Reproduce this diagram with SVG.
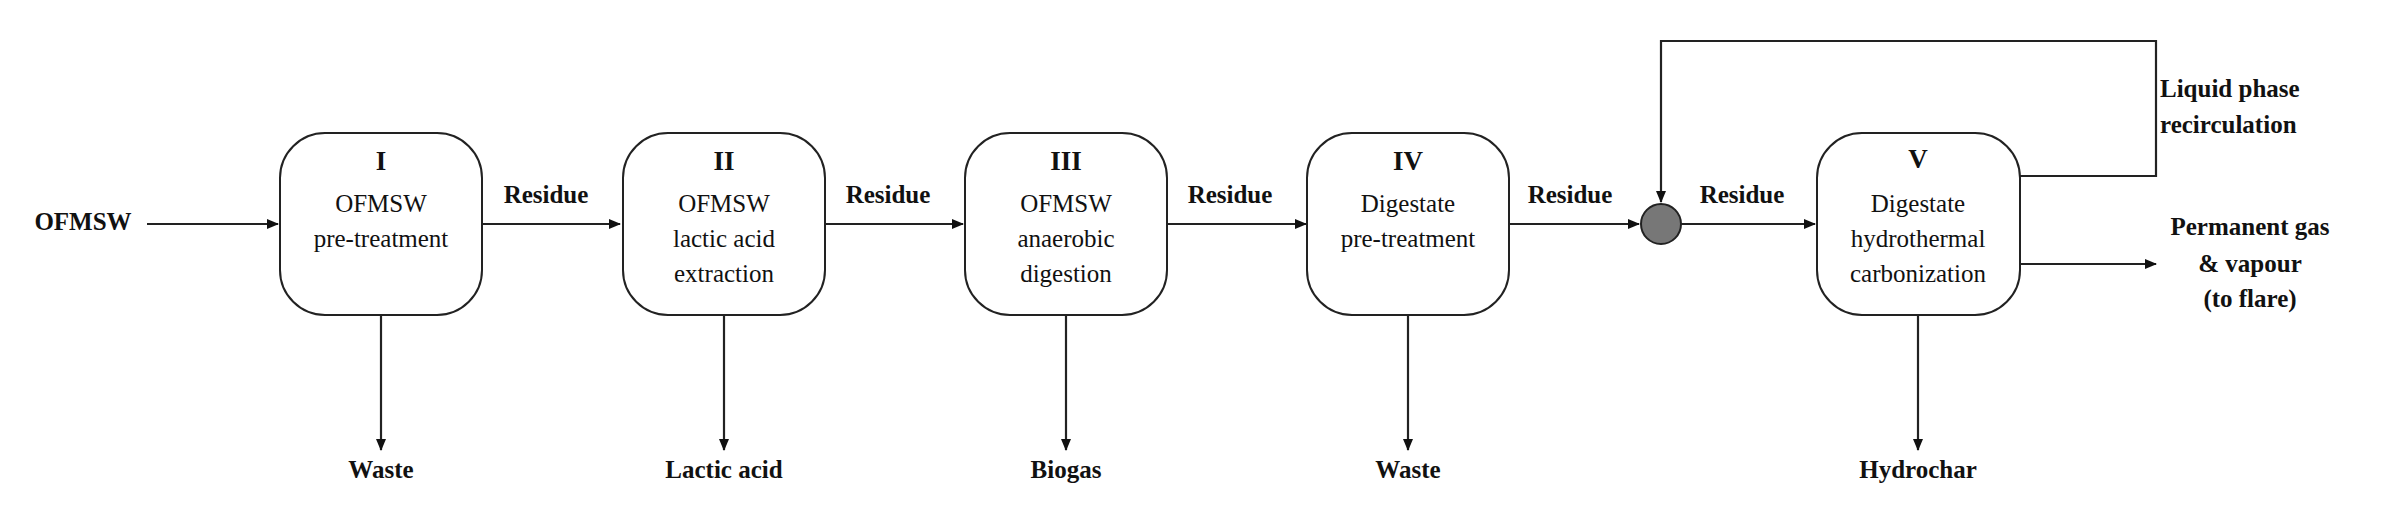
<svg xmlns="http://www.w3.org/2000/svg" width="2384" height="515" viewBox="0 0 2384 515">
<style>
text{font-family:"Liberation Serif","DejaVu Serif",serif;font-size:25px;fill:#111;text-anchor:middle}
.b{font-weight:bold}
.box{fill:#fff;stroke:#222;stroke-width:2}
.c{fill:none;stroke:#222;stroke-width:2.2}
</style>
<defs><marker id="a" markerWidth="12" markerHeight="10" refX="11" refY="5" orient="auto" markerUnits="userSpaceOnUse"><path d="M0,0L12,5L0,10z" fill="#111"/></marker></defs>
<g id="connectors">
<path class="c" d="M147,224H278" marker-end="url(#a)"/>
<path class="c" d="M482,224H620" marker-end="url(#a)"/>
<path class="c" d="M826,224H963" marker-end="url(#a)"/>
<path class="c" d="M1167,224H1306" marker-end="url(#a)"/>
<path class="c" d="M1510,224H1639" marker-end="url(#a)"/>
<path class="c" d="M1681,224H1815" marker-end="url(#a)"/>
<path class="c" d="M2020,176H2156V41H1661V202" marker-end="url(#a)"/>
<path class="c" d="M2020,264H2156" marker-end="url(#a)"/>
<path class="c" d="M381,315V450" marker-end="url(#a)"/>
<path class="c" d="M724,315V450" marker-end="url(#a)"/>
<path class="c" d="M1066,315V450" marker-end="url(#a)"/>
<path class="c" d="M1408,315V450" marker-end="url(#a)"/>
<path class="c" d="M1918,315V450" marker-end="url(#a)"/>
<text class="b" x="83" y="230">OFMSW</text>
<text class="b" x="546" y="203">Residue</text>
<text class="b" x="888" y="203">Residue</text>
<text class="b" x="1230" y="203">Residue</text>
<text class="b" x="1570" y="203">Residue</text>
<text class="b" x="1742" y="203">Residue</text>
<text class="b" x="2160" y="97" style="text-anchor:start">Liquid phase</text>
<text class="b" x="2160" y="133" style="text-anchor:start">recirculation</text>
<text class="b" x="2250" y="235">Permanent gas</text>
<text class="b" x="2250" y="272">&amp; vapour</text>
<text class="b" x="2250" y="307">(to flare)</text>
<text class="b" x="381" y="478">Waste</text>
<text class="b" x="724" y="478">Lactic acid</text>
<text class="b" x="1066" y="478">Biogas</text>
<text class="b" x="1408" y="478">Waste</text>
<text class="b" x="1918" y="478">Hydrochar</text>
</g>
<g id="n1"><rect class="box" x="280" y="133" width="202" height="182" rx="45"/><text class="b" x="381" y="170" style="font-size:27px">I</text><text x="381" y="212">OFMSW</text><text x="381" y="247">pre-treatment</text></g>
<g id="n2"><rect class="box" x="623" y="133" width="202" height="182" rx="45"/><text class="b" x="724" y="170" style="font-size:27px">II</text><text x="724" y="212">OFMSW</text><text x="724" y="247">lactic acid</text><text x="724" y="282">extraction</text></g>
<g id="n3"><rect class="box" x="965" y="133" width="202" height="182" rx="45"/><text class="b" x="1066" y="170" style="font-size:27px">III</text><text x="1066" y="212">OFMSW</text><text x="1066" y="247">anaerobic</text><text x="1066" y="282">digestion</text></g>
<g id="n4"><rect class="box" x="1307" y="133" width="202" height="182" rx="45"/><text class="b" x="1408" y="170" style="font-size:27px">IV</text><text x="1408" y="212">Digestate</text><text x="1408" y="247">pre-treatment</text></g>
<g id="mix"><circle cx="1661" cy="224" r="20" fill="#777" stroke="#222" stroke-width="2"/></g>
<g id="n5"><rect class="box" x="1817" y="133" width="203" height="182" rx="45"/><text class="b" x="1918" y="168" style="font-size:27px">V</text><text x="1918" y="212">Digestate</text><text x="1918" y="247">hydrothermal</text><text x="1918" y="282">carbonization</text></g>
</svg>
